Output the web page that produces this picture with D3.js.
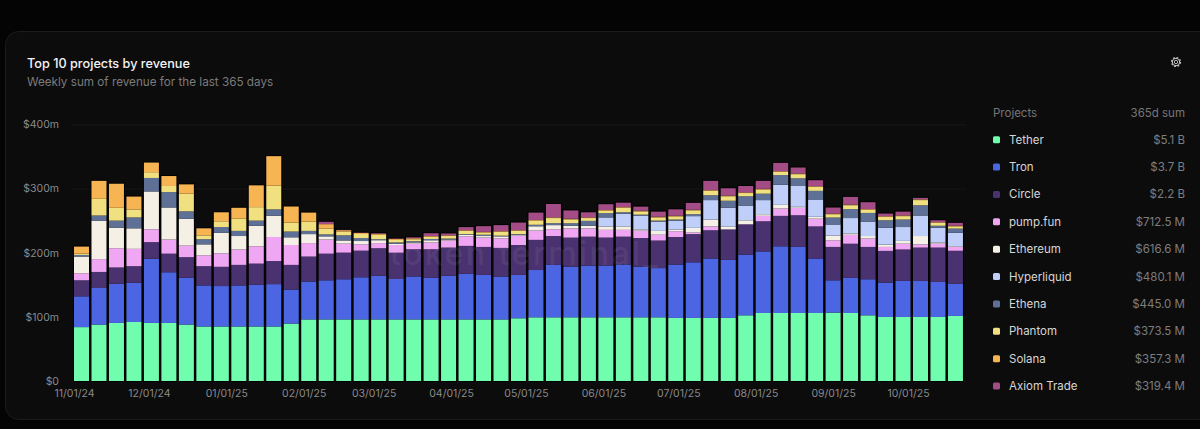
<!DOCTYPE html>
<html>
<head>
<meta charset="utf-8">
<script src="https://cdn.jsdelivr.net/npm/d3@7"></script>
<style>
html, body { margin: 0; padding: 0; background: #040404; overflow: hidden; }
text { font-family: Inter, "Noto Sans", sans-serif; }
</style>
</head>
<body>
<div id="chart"></div>
<script>
var weeks = ["2024-11-01","2024-11-08","2024-11-15","2024-11-22","2024-11-29","2024-12-06","2024-12-13","2024-12-20","2024-12-27",
    "2025-01-03","2025-01-10","2025-01-17","2025-01-24","2025-01-31","2025-02-07","2025-02-14","2025-02-21","2025-02-28",
    "2025-03-07","2025-03-14","2025-03-21","2025-03-28","2025-04-04","2025-04-11","2025-04-18","2025-04-25",
    "2025-05-02","2025-05-09","2025-05-16","2025-05-23","2025-05-30","2025-06-06","2025-06-13","2025-06-20","2025-06-27",
    "2025-07-04","2025-07-11","2025-07-18","2025-07-25","2025-08-01","2025-08-08","2025-08-15","2025-08-22","2025-08-29",
    "2025-09-05","2025-09-12","2025-09-19","2025-09-26","2025-10-03","2025-10-10","2025-10-17"];

var tether = [84,88,90.5,92,90.5,90.5,88,85,85,85,85,85,89.5,96,96,96,96,96,96,96,96,96,96,96,96,97.8,99.3,99.3,99.3,99.3,99.3,99.3,99.3,99.3,98.3,98.3,98.3,98.3,102.4,106,106,106,106,106.6,106,102.4,99.8,99.8,99.8,99.8,101.4];
var tron = [48,57,61,61,100,79,73,64,63,64,65,66,53,59,61,62.6,65.7,68,63,67,64.7,68,71,69.4,66.8,67.6,73.7,81.7,79,80.7,80.7,82.2,79,76.7,83.2,86.7,92.7,90.5,94.6,96,104,103,85,50.4,54.7,56.2,53.6,56.2,56.2,54.6,50.4];
var circle = [25,25,25.5,26,26,29,32,30,30,32,33,36,38.5,39,41.5,41.5,41.5,43,41,42.5,44.7,44,43.6,43.6,44.7,46.6,47,45,45.2,45,43.6,43.5,44.6,43,43,44,44,47.2,47,47,47.4,49.4,50,52,53.3,50.4,49.4,49,52,53.6,51.2];
var pumpFun = [11,20,30,27,20,22,18,17,21,24,27,37.5,31,21,22,14,10,8,12,8.5,10.5,11,15,14.6,15,14.7,14.5,10.6,14.4,13,12,10.6,11.4,9,9,2.4,6,0.5,0.5,8.4,11.4,11.6,12,10.4,13.8,13,6.2,9,5,6,6];
var ethereum = [26,60,32,32,59,50,42,17,32,21,32,33,12,14,5,5,5,4.5,2,2,3.5,1.5,2.3,2.4,3,1.3,6.5,6.4,4,4,5.2,5.4,2,6,2.5,7.3,10.7,4.5,6,2.6,5.8,1.5,3,7.3,2.2,4,3.7,4.4,13,2,1];
var hyperliquid = [0,0,0,0,0,0,0,0,0,0,0,0,0,0,0,0,0,0,0,0,0,0,0,0,0,0,0.5,0,0,0,14.2,19.5,21,14.6,13.6,18.3,30.3,29,23,22,31.4,32.5,27,17.3,24,22.6,26.3,21.6,32,23,21];
var ethena = [2.5,8,11,17,21,24,11.5,8,9,8,8,10,9,5,3,8,4.5,1.5,2,2,2,1.5,1,2,1,1,2,3,4,7.6,6.6,2.5,2,1.4,2,3,7.6,11,14.5,10,15,12,13.4,10.8,14,13.4,11.6,11.7,16,3,6.6];
var phantom = [2,26,20,12.5,9,9.5,27.5,6,9,19,21,37,14,14.5,9,6,6.5,7,4,3,3.5,4,5,3.4,6,5,6.5,8,6,4.4,4,7,5,5,5,6,6.8,7,5,6.5,5,6.4,6.2,5.2,6,5,5.2,5.3,8,4.5,3.4];
var solana = [11,28,37.5,20,15,15.5,14.5,11,14,17,34,46,25,14,7,2,1.5,1.5,1.5,1.5,1,1,1,1,1,1,1,1,1,1,1,1,1,1,1,1,1,1,1,1,1,1,1,1,1,1,1,1,1,1,1];
var axiomTrade = [0,0,0,0,0,0,0,0,0,0,0,0,0,0,3.6,0.5,0.5,1,0.5,1.5,4.5,3,5,9,9.5,12,11.5,21,13,8,9,7,6.5,8,10,10.7,14.6,11.5,10,12.5,13,9.4,9.4,9.4,12,10.7,4.2,6,2.5,3.1,4.5];

var projects = ["Tether","Tron","Circle","pump.fun","Ethereum","Hyperliquid","Ethena","Phantom","Solana","Axiom Trade"];
var sums = ["$5.1 B","$3.7 B","$2.2 B","$712.5 M","$616.6 M","$480.1 M","$445.0 M","$373.5 M","$357.3 M","$319.4 M"];
var colors = ["#70fdae","#4c66e3","#4a3270","#efa7f3","#f5f0e6","#bfcffa","#5f7097","#f0e080","#f6b452","#a34c85"];
var yTicks = [0,100,200,300,400];
var monthTicks = ["2024-11-01","2024-12-01","2025-01-01","2025-02-01","2025-03-01","2025-04-01","2025-05-01","2025-06-01","2025-07-01","2025-08-01","2025-09-01","2025-10-01"];

var parseDate = d3.utcParse("%Y-%m-%d");
var allSeries = [tether, tron, circle, pumpFun, ethereum, hyperliquid, ethena, phantom, solana, axiomTrade];

var table = weeks.map(function (w, i) {
    var row = { date: parseDate(w) };
    projects.forEach(function (p, j) { row[p] = allSeries[j][i]; });
    return row;
});

var width = 1200, height = 429;
var svg = d3.select("#chart").append("svg").attr("width", width).attr("height", height).style("display", "block");

// card
svg.append("rect").attr("x", 5.5).attr("y", 31.5).attr("width", 1250).attr("height", 388).attr("rx", 13)
    .attr("fill", "#0c0c0d").attr("stroke", "#1b1b1c");

svg.append("text").attr("x", 27).attr("y", 67.5).attr("fill", "#f4f4f4").attr("font-size", 12.7).attr("font-weight", 500)
    .text("Top 10 projects by revenue");
svg.append("text").attr("x", 27).attr("y", 86).attr("fill", "#7b7b7b").attr("font-size", 11.7)
    .text("Weekly sum of revenue for the last 365 days");

var x = d3.scaleUtc().domain([parseDate(monthTicks[0]), parseDate(monthTicks[11])]).range([74, 908]);
var y = d3.scaleLinear().domain([0, 400]).range([381, 124.4]);
var barWidth = 15;

// y axis + grid
var yAxis = svg.append("g").attr("transform", "translate(72,0)")
    .call(d3.axisLeft(y).tickValues(yTicks).tickSize(-894).tickPadding(13)
        .tickFormat(function (d) { return "$" + d + (d ? "m" : ""); }));
yAxis.select(".domain").remove();
yAxis.selectAll("line").attr("stroke", "#171718");
yAxis.selectAll("text").attr("fill", "#8a8a8a").attr("font-size", 10.5).attr("font-family", "Inter");

// bars, with the black edge the reference has around each column
var stacked = d3.stack().keys(projects)(table);
svg.append("g").selectAll("rect").data(stacked[stacked.length - 1]).enter().append("rect")
    .attr("x", function (d) { return x(d.data.date) - 1; })
    .attr("y", function (d) { return y(d[1]) - 1; })
    .attr("width", barWidth + 2)
    .attr("height", function (d) { return y(0) - y(d[1]) + 2; })
    .attr("fill", "#020202");
svg.append("g").selectAll("g").data(stacked).enter().append("g")
    .attr("fill", function (d, i) { return colors[i]; })
    .selectAll("rect").data(function (d) { return d; }).enter().append("rect")
    .attr("x", function (d) { return x(d.data.date); })
    .attr("y", function (d) { return y(d[1]); })
    .attr("width", barWidth)
    .attr("height", function (d) { return y(d[0]) - y(d[1]); });

// x axis
var xAxis = svg.append("g").attr("transform", "translate(0,381)")
    .call(d3.axisBottom(x).tickValues(monthTicks.map(parseDate)).tickSize(0).tickPadding(9)
        .tickFormat(d3.utcFormat("%m/%d/%y")));
xAxis.select(".domain").remove();
xAxis.selectAll("text").attr("fill", "#8a8a8a").attr("font-size", 10.5).attr("font-family", "Inter");

// watermark
svg.append("text").attr("x", 525).attr("y", 265).attr("text-anchor", "middle").attr("fill", "#ffffff").attr("fill-opacity", 0.07)
    .attr("font-size", 32).attr("font-weight", 500).attr("letter-spacing", 2.5).text("token terminal_");

// legend
svg.append("text").attr("x", 993).attr("y", 116.5).attr("fill", "#767676").attr("font-size", 11.5).text("Projects");
svg.append("text").attr("x", 1185).attr("y", 116.5).attr("text-anchor", "end").attr("fill", "#767676").attr("font-size", 11.5).text("365d sum");

var legendY = d3.scalePoint().domain(projects).range([139.7, 386]);
var rows = svg.append("g").selectAll("g").data(projects).enter().append("g")
    .attr("transform", function (d) { return "translate(0," + legendY(d) + ")"; });
rows.append("rect").attr("x", 993).attr("y", -3.5).attr("width", 7).attr("height", 7).attr("rx", 1.5)
    .attr("fill", function (d, i) { return colors[i]; });
rows.append("text").attr("x", 1009).attr("y", 4).attr("fill", "#d6d6d6").attr("font-size", 11.5).text(function (d) { return d; });
rows.append("text").attr("x", 1185).attr("y", 4).attr("text-anchor", "end").attr("fill", "#7e7e7e").attr("font-size", 11.5)
    .text(function (d, i) { return sums[i]; });

// settings icon
var gear = svg.append("g").attr("transform", "translate(1176,62)").attr("fill", "none").attr("stroke", "#c8c8c8");
gear.append("circle").attr("r", 1.7).attr("stroke-width", 0.9);
gear.append("circle").attr("r", 3.7).attr("stroke-width", 1);
gear.append("circle").attr("r", 4.5).attr("stroke-width", 1.2).attr("stroke-dasharray", "1.8 1.73");
</script>
</body>
</html>
